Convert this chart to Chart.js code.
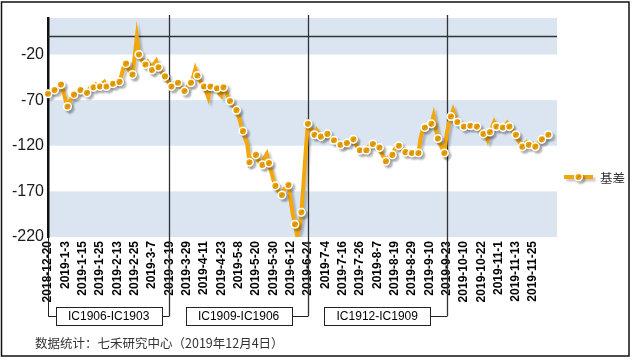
<!doctype html>
<html lang="zh">

<head>
  <meta charset="UTF-8" />
  <script src="https://cdn.jsdelivr.net/npm/chart.js"></script>
  <title>基差</title>
  <style>
    body { margin: 0; background: #fff; }
    #wrap { position: relative; width: 633px; height: 361px; }
    #note {
      position: absolute; left: 35px; top: 335px;
      font: 12.5px "Noto Sans CJK SC", sans-serif; line-height: 16px; color: #333;
    }
  </style>
</head>

<body>
  <div id="wrap">
    <canvas id="myChart" width="633" height="361"></canvas>
    <div id="note">数据统计：七禾研究中心（2019年12月4日）</div>
  </div>

  <script>
    // x axis: one category per trading day, a date label every 8th day
    const dateLabels = ["2018-12-20", "2019-1-3", "2019-1-15", "2019-1-25", "2019-2-13", "2019-2-25",
      "2019-3-7", "2019-3-19", "2019-3-29", "2019-4-11", "2019-4-23", "2019-5-8", "2019-5-20",
      "2019-5-30", "2019-6-12", "2019-6-24", "2019-7-4", "2019-7-16", "2019-7-26", "2019-8-7",
      "2019-8-19", "2019-8-29", "2019-9-10", "2019-9-23", "2019-10-10", "2019-10-22", "2019-11-1",
      "2019-11-13", "2019-11-25"];
    const labelStep = 8;
    const dayCount = 236;

    // contract pairs and the day index where each one hands over
    const contractNames = ["IC1906-IC1903", "IC1909-IC1906", "IC1912-IC1909"];
    const rollDays = [0, 56, 120, 184];

    const yTickValues = [-220, -170, -120, -70, -20];
    const yRange = { min: -220, max: 20 };

    const basis = [
      -63, -61, -60, -59, -57, -55, -53, -60, -69, -77, -72, -67,
      -64, -62, -61, -59, -60, -61, -62, -58, -55, -56, -53, -55,
      -55, -52, -50, -55, -53, -52, -52, -50, -51, -50, -42, -33,
      -30, -35, -40, -42, -22, -1, -20, -25, -29, -31, -28, -32,
      -37, -30, -27, -34, -38, -41, -44, -48, -51, -55, -52, -50,
      -51, -55, -58, -60, -57, -53, -51, -45, -36, -43, -48, -52,
      -55, -60, -67, -55, -56, -57, -57, -62, -65, -56, -60, -66,
      -71, -75, -78, -81, -88, -96, -104, -112, -118, -138, -134, -131,
      -130, -136, -139, -141, -133, -129, -139, -148, -157, -164, -168, -172,
      -174, -168, -164, -163, -180, -195, -206, -218, -210, -193, -160, -125,
      -96, -100, -104, -108, -103, -107, -110, -109, -108, -107, -110, -112,
      -114, -116, -118, -119, -120, -118, -117, -115, -114, -113, -118, -122,
      -125, -123, -124, -125, -121, -119, -118, -120, -121, -122, -128, -133,
      -137, -133, -131, -130, -124, -121, -120, -123, -125, -127, -126, -127,
      -128, -126, -127, -128, -112, -102, -100, -98, -97, -96, -87, -100,
      -112, -118, -123, -128, -108, -96, -88, -81, -88, -94, -96, -97,
      -99, -98, -97, -98, -98, -99, -99, -102, -105, -107, -106, -113,
      -105, -100, -94, -99, -100, -100, -100, -98, -95, -99, -102, -105,
      -108, -113, -118, -121, -118, -116, -119, -120, -118, -121, -118, -115,
      -113, -111, -109, -108
    ];

    const categories = [];
    for (let i = 0; i < dayCount; i++) {
      categories.push(i % labelStep === 0 && dateLabels[i / labelStep] ? dateLabels[i / labelStep] : "");
    }

    const orange = "#F3A70B";
    const band = "#DAE5F1";
    const boxTop = 307, boxH = 18, boxW = 106, linkY = 316;

    function setShadow(ctx) {
      ctx.shadowColor = "rgba(0,0,0,0.22)";
      ctx.shadowOffsetX = 2.5;
      ctx.shadowOffsetY = 2.5;
      ctx.shadowBlur = 2;
    }

    const decor = {
      id: "decor",
      beforeDraw(chart) {
        const { ctx, chartArea: a, scales: { y } } = chart;
        ctx.save();
        ctx.fillStyle = "#fff";
        ctx.fillRect(0, 0, chart.width, chart.height);
        const t = y.ticks.map((k) => k.value);
        ctx.fillStyle = band;
        for (let k = 0; k < t.length; k += 2) {
          const top = y.getPixelForValue(k + 1 < t.length ? t[k + 1] : y.max);
          const bot = y.getPixelForValue(t[k]);
          ctx.fillRect(a.left, top, a.right - a.left, bot - top);
        }
        ctx.restore();
      },
      beforeDatasetsDraw(chart) {
        const { ctx, chartArea: a, scales: { x, y } } = chart;
        ctx.save();
        ctx.strokeStyle = "#333";
        ctx.lineWidth = 1.3;
        // zero line
        const y0 = Math.round(y.getPixelForValue(0)) + 0.5;
        ctx.beginPath();
        ctx.moveTo(a.left, y0);
        ctx.lineTo(a.right, y0);
        ctx.stroke();
        // contract roll separators
        rollDays.slice(1).forEach((d) => {
          const px = Math.round(x.getPixelForValue(d)) + 0.5;
          ctx.beginPath();
          ctx.moveTo(px, a.top - 3);
          ctx.lineTo(px, linkY);
          ctx.stroke();
        });
        ctx.restore();
      },
      beforeDatasetDraw(chart) {
        chart.ctx.save();
        setShadow(chart.ctx);
      },
      afterDatasetDraw(chart) {
        chart.ctx.restore();
      },
      afterDraw(chart) {
        const { ctx, chartArea: a, scales: { x } } = chart;
        ctx.save();
        ctx.strokeStyle = "#222";
        ctx.lineWidth = 1;
        ctx.font = '12px "Liberation Sans", Arial, sans-serif';
        ctx.fillStyle = "#000";
        ctx.textAlign = "center";
        ctx.textBaseline = "middle";

        // axis line continues down to first box
        const ax = Math.round(a.left) + 0.5;
        ctx.beginPath();
        ctx.moveTo(ax, a.bottom);
        ctx.lineTo(ax, linkY + 0.5);
        ctx.stroke();

        contractNames.forEach((name, k) => {
          const l = x.getPixelForValue(rollDays[k]);
          const r = x.getPixelForValue(rollDays[k + 1]);
          const cx = (l + r) / 2;
          const bx = Math.round(cx - boxW / 2) + 0.5;
          ctx.strokeRect(bx, boxTop + 0.5, boxW, boxH);
          ctx.fillText(name, cx, boxTop + boxH / 2 + 1);
          ctx.beginPath();
          ctx.moveTo(bx + boxW, linkY + 0.5);
          ctx.lineTo(Math.round(r) + 0.5, linkY + 0.5);
          if (k === 0) {
            ctx.moveTo(bx, linkY + 0.5);
            ctx.lineTo(ax, linkY + 0.5);
          }
          ctx.stroke();
        });

        // legend
        const ly = 177;
        ctx.save();
        setShadow(ctx);
        ctx.strokeStyle = orange;
        ctx.lineWidth = 4;
        ctx.beginPath();
        ctx.moveTo(564, ly);
        ctx.lineTo(593, ly);
        ctx.stroke();
        ctx.beginPath();
        ctx.arc(578.5, ly, 3.8, 0, Math.PI * 2);
        ctx.fillStyle = orange;
        ctx.fill();
        ctx.lineWidth = 1.5;
        ctx.strokeStyle = "#fff";
        ctx.stroke();
        ctx.restore();
        ctx.fillStyle = "#333";
        ctx.textAlign = "left";
        ctx.font = '12.5px "Noto Sans CJK SC", sans-serif';
        ctx.fillText("基差", 600, ly + 1);

        // outer frame
        ctx.strokeStyle = "#111";
        ctx.lineWidth = 1.5;
        ctx.strokeRect(1.5, 2, 627.5, 354);
        ctx.restore();
      },
    };

    new Chart(document.getElementById("myChart"), {
      type: "line",
      data: {
        labels: categories,
        datasets: [
          {
            label: "基差",
            data: basis,
            borderColor: orange,
            borderWidth: 4,
            tension: 0,
            pointRadius: (c) => (c.dataIndex % 3 === 0 ? 3.8 : 0),
            pointBackgroundColor: orange,
            pointBorderColor: "#fff",
            pointBorderWidth: 1.5,
          },
        ],
      },
      options: {
        responsive: false,
        animation: false,
        events: [],
        layout: { padding: { left: 0, top: 18, right: 76, bottom: 0 } },
        plugins: { legend: { display: false }, tooltip: { enabled: false } },
        scales: {
          x: {
            offset: false,
            grid: { display: false, drawTicks: false },
            border: { display: false },
            ticks: {
              autoSkip: false,
              minRotation: 90,
              maxRotation: 90,
              padding: 4,
              color: "#000",
              font: { family: '"Liberation Sans", Arial, sans-serif', size: 12, weight: "bold" },
            },
            afterFit: (s) => { s.height = 124; },
          },
          y: {
            min: yRange.min,
            max: yRange.max,
            grid: { display: false, drawTicks: false },
            border: { display: true, color: "#111", width: 2.5 },
            ticks: {
              padding: 4,
              color: "#1a1a1a",
              font: { family: '"Liberation Sans", Arial, sans-serif', size: 16 },
            },
            afterBuildTicks: (s) => { s.ticks = yTickValues.map((v) => ({ value: v })); },
            afterFit: (s) => { s.width = 48; },
          },
        },
      },
      plugins: [decor],
    });
  </script>
</body>

</html>
